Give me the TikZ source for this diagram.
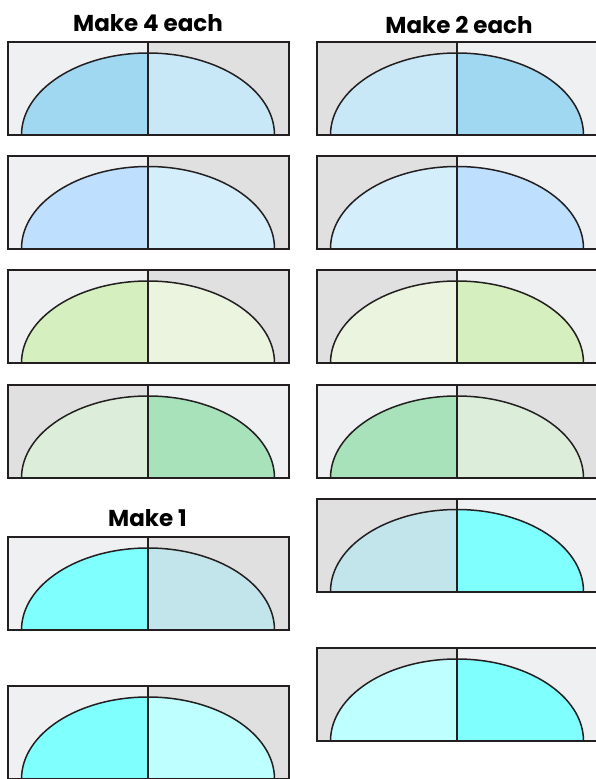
\documentclass[tikz,border=0pt]{standalone}
\usepackage{fontspec}
\newfontfamily\titlefont{Poppins}
\definecolor{bglight}{HTML}{EFF0F2}
\definecolor{bgdark}{HTML}{E0E0E0}
\definecolor{edge}{HTML}{231F20}
\definecolor{skyA}{HTML}{A0D8F2}
\definecolor{skyB}{HTML}{C8E8F8}
\definecolor{periA}{HTML}{BEDFFE}
\definecolor{periB}{HTML}{D4EEFB}
\definecolor{limeA}{HTML}{D5EFBE}
\definecolor{limeB}{HTML}{EAF4DE}
\definecolor{mintA}{HTML}{A8E2BA}
\definecolor{mintB}{HTML}{DCEEDA}
\definecolor{aquaA}{HTML}{80FFFF}
\definecolor{aquaB}{HTML}{C2E5EC}
\definecolor{aquaC}{HTML}{BEFFFF}

\tikzset{
  title/.style={font=\titlefont\bfseries\fontsize{23}{27}\selectfont, text=black},
  frame/.style={draw=edge, line width=2pt},
  seam/.style={draw=edge, line width=1.8pt},
  dome/.style={draw=edge, line width=1.5pt},
}

% #1 nome, #2 x sinistra, #3 y alto, #4-#5 sfondi, #6-#7 riempimenti
\newcommand{\halfblock}[7]{%
  \coordinate (#1-nw) at (#2,#3);
  \coordinate (#1-se) at (#2+281,#3+93);
  \coordinate (#1-n) at (#2+140.5,#3);
  \coordinate (#1-s) at (#2+140.5,#3+93);
  \coordinate (#1-top) at (#2+140.5,#3+11);
  \coordinate (#1-l) at (#2+14,#3+93);
  \fill[#4] (#1-nw) rectangle (#1-s);
  \fill[#5] (#1-n) rectangle (#1-se);
  \fill[#6] (#1-s) -- (#1-l) arc[start angle=180, end angle=90, x radius=126.5pt, y radius=82pt] -- cycle;
  \fill[#7] (#1-s) -- (#1-top) arc[start angle=90, end angle=0, x radius=126.5pt, y radius=82pt] -- cycle;
  \draw[dome] (#1-l) arc[start angle=180, end angle=0, x radius=126.5pt, y radius=82pt];
  \draw[seam] (#1-n) -- (#1-s);
  \draw[frame] (#1-nw) rectangle (#1-se);
}

\begin{document}
\begin{tikzpicture}[x=1pt, y=-1pt]
  \useasboundingbox[fill=white] (0,0) rectangle (596,779);

  % titoli
  \node[title] (t4) at (148,23) {Make 4 each};
  \node[title] (t2) at (459,25) {Make 2 each};
  \node[title] (t1) at (147.5,518) {Make 1};

  % colonna sinistra
  \halfblock{L1}{7.5}{42}{bglight}{bgdark}{skyA}{skyB}
  \halfblock{L2}{7.5}{155.5}{bglight}{bgdark}{periA}{periB}
  \halfblock{L3}{7.5}{270}{bglight}{bgdark}{limeA}{limeB}
  \halfblock{L4}{7.5}{385}{bgdark}{bglight}{mintB}{mintA}
  \halfblock{L5}{7.5}{537}{bglight}{bgdark}{aquaA}{aquaB}
  \halfblock{L6}{7.5}{686}{bglight}{bgdark}{aquaA}{aquaC}

  % colonna destra
  \halfblock{R1}{316.5}{42}{bgdark}{bglight}{skyB}{skyA}
  \halfblock{R2}{316.5}{155.5}{bgdark}{bglight}{periB}{periA}
  \halfblock{R3}{316.5}{270}{bgdark}{bglight}{limeB}{limeA}
  \halfblock{R4}{316.5}{385}{bglight}{bgdark}{mintA}{mintB}
  \halfblock{R5}{316.5}{498.5}{bgdark}{bglight}{aquaB}{aquaA}
  \halfblock{R6}{316.5}{648}{bgdark}{bglight}{aquaC}{aquaA}
\end{tikzpicture}
\end{document}
